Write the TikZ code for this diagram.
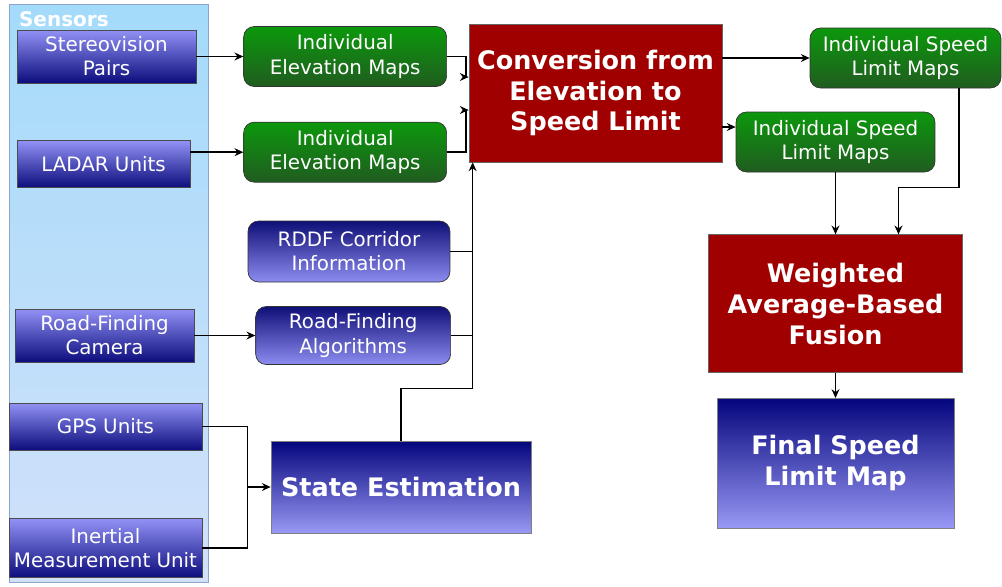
\documentclass[tikz,border=0pt]{standalone}
\usepackage{fontspec}
\setmainfont{DejaVu Sans}
\usepackage{xcolor}
\usepackage{tikz}
\usetikzlibrary{arrows.meta,positioning,calc}

\definecolor{panelTop}{RGB}{164,219,250}
\definecolor{panelBot}{RGB}{210,225,250}
\definecolor{panelEdge}{RGB}{140,165,200}
\definecolor{sensorTop}{RGB}{145,145,245}
\definecolor{sensorBot}{RGB}{12,12,125}
\definecolor{mapTop}{RGB}{12,152,12}
\definecolor{mapBot}{RGB}{32,92,32}
\definecolor{infoTop}{RGB}{15,15,120}
\definecolor{infoBot}{RGB}{140,140,240}
\definecolor{procRed}{RGB}{160,0,0}
\definecolor{resultTop}{RGB}{5,5,125}
\definecolor{resultBot}{RGB}{152,152,245}

\newcommand{\mapfont}{\fontsize{11.3}{13.7}\selectfont}
\newcommand{\procfont}{\fontsize{14.5}{17.6}\selectfont\bfseries}

\begin{document}
\begin{tikzpicture}[
    x=0.02cm, y=-0.02cm,
    panel/.style={rectangle, draw=panelEdge, top color=panelTop, bottom color=panelBot, minimum width=3.98cm, minimum height=11.56cm},
    sensor/.style={rectangle, draw=black!70, top color=sensorTop, bottom color=sensorBot, text=white, align=center, font=\mapfont, inner sep=1pt, minimum width=3.58cm, minimum height=1.06cm},
    mapbox/.style={rectangle, rounded corners=6pt, draw=black!80, top color=mapTop, bottom color=mapBot, text=white, align=center, font=\mapfont, inner sep=1pt, minimum height=1.2cm},
    infobox/.style={rectangle, rounded corners=6pt, draw=black!80, top color=infoTop, bottom color=infoBot, text=white, align=center, font=\mapfont, inner sep=1pt},
    process/.style={rectangle, draw=black!60, fill=procRed, text=white, align=center, font=\procfont, minimum width=5.06cm, minimum height=2.76cm},
    result/.style={rectangle, draw=black!50, top color=resultTop, bottom color=resultBot, text=white, align=center, font=\procfont},
    arrow/.style={->, >={Stealth[length=5pt, width=4.5pt]}, line width=0.8pt},
    line/.style={line width=0.8pt}
]
\useasboundingbox (0,0) rectangle (1002,586);

% Sensor panel
\node[panel] (sensors) at (108.5,293) {};
\node[anchor=north west, inner sep=0pt, text=white, font=\fontsize{11.4}{13}\selectfont\bfseries] (sensorstitle) at ($(sensors.north west)+(10,8)$) {Sensors};

% Sensors
\node[sensor] (stereo) at (106.5,56.5) {Stereovision\\Pairs};
\node[sensor, minimum width=3.46cm, minimum height=0.94cm, below=1.14cm of stereo.south west, anchor=north west] (ladar) {LADAR Units};
\node[sensor] (camera) at (104.5,335.5) {Road-Finding\\Camera};
\node[sensor, minimum width=3.86cm, minimum height=0.94cm] (gps) at (105.5,426.5) {GPS Units};
\node[sensor, minimum width=3.86cm, minimum height=1.18cm, below=1.36cm of gps] (imu) {Inertial\\Measurement Unit};

% First stage
\node[mapbox, minimum width=4.06cm, right=0.94cm of stereo] (elev1) {Individual\\Elevation Maps};
\node[mapbox, minimum width=4.06cm, below=0.7cm of elev1] (elev2) {Individual\\Elevation Maps};
\node[infobox, minimum width=4.04cm, minimum height=1.22cm] (rddf) at (349,251.5) {RDDF Corridor\\Information};
\node[infobox, minimum width=3.9cm, minimum height=1.16cm, right=1.22cm of camera] (rfa) {Road-Finding\\Algorithms};
\node[result, minimum width=5.2cm, minimum height=1.84cm] (state) at (401,487) {State Estimation};

% Conversion and fusion
\node[process] (conv) at (595.5,93) {Conversion from\\Elevation to\\Speed Limit};
\node[mapbox, minimum width=3.82cm] (isl1) at (905.5,58) {Individual Speed\\Limit Maps};
\node[mapbox, minimum width=3.98cm] (isl2) at (835.5,142) {Individual Speed\\Limit Maps};
\node[process, minimum width=5.08cm, below=1.24cm of isl2] (fusion) {Weighted\\Average-Based\\Fusion};
\node[result, minimum width=4.74cm, minimum height=2.6cm, below=0.5cm of fusion] (final) {Final Speed\\Limit Map};

% Sensors to first stage
\draw[arrow] (stereo) -- (elev1);
\draw[arrow] (ladar.east |- elev2) -- (elev2);
\draw[arrow] (camera) -- (rfa);
\draw[line] (gps.east) -- ++(0.9cm,0) |- (imu.east);
\draw[arrow] ([xshift=-0.48cm]state.west) -- (state.west);

% Elevation maps into conversion
\draw[arrow] (elev1.east) -- ++(0.38cm,0) |- ([yshift=0.32cm]conv.west);
\draw[arrow] (elev2.east) -- ++(0.38cm,0) |- ([yshift=-0.34cm]conv.west);

% Trunk from state estimation
\coordinate (trunk) at ([xshift=0.08cm]conv.south west);
\draw[arrow] (state.north) -- ++(0,1.04cm) -| (trunk);
\draw[line] (rddf.east) -- (rddf.east -| trunk);
\draw[line] (rfa.east) -- (rfa.east -| trunk);

% Conversion to speed limit maps
\coordinate (isl2in) at ([yshift=0.3cm]isl2.west);
\draw[arrow] (conv.east |- isl1) -- (isl1);
\draw[arrow] (conv.east |- isl2in) -- (isl2in);

% Speed limit maps into fusion
\draw[arrow] (isl2.south) -- (isl2.south |- fusion.north);
\draw[arrow] ([xshift=1.07cm]isl1.south) -- ++(0,-1.98cm) -| ([xshift=1.26cm]fusion.north);
\draw[arrow] (fusion.south) -- (fusion.south |- final.north);

\end{tikzpicture}
\end{document}
